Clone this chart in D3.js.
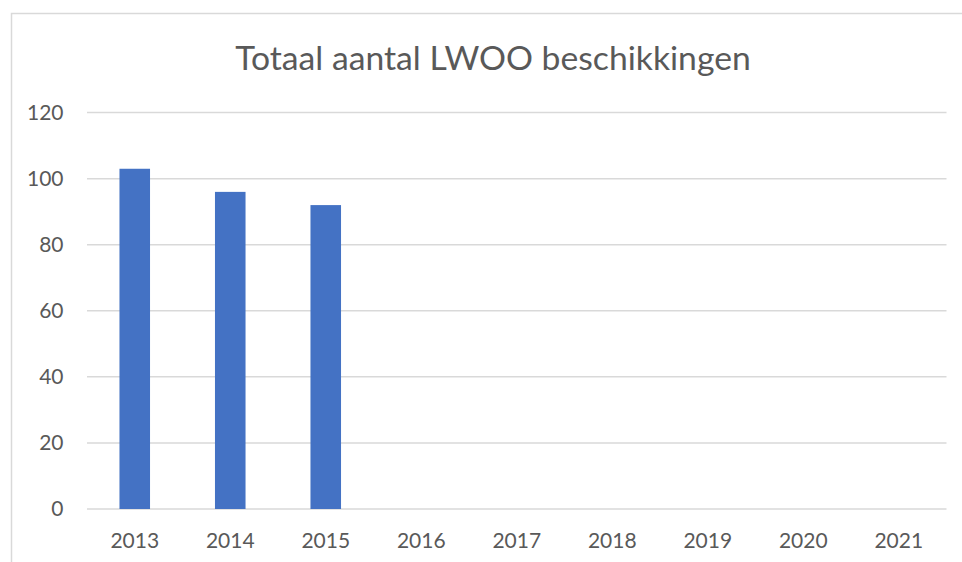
<!DOCTYPE html>
<html><head><meta charset="utf-8">
<script src="https://cdn.jsdelivr.net/npm/d3@7"></script>
<style>html,body{margin:0;padding:0;background:#fff;}svg{display:block;}</style>
</head><body>
<svg id="chart" width="962" height="562"></svg>
<script>
const title = "Totaal aantal LWOO beschikkingen";
const categories = ["2013","2014","2015","2016","2017","2018","2019","2020","2021"];
const values = [103, 96, 92, null, null, null, null, null, null];
const yTicks = [0, 20, 40, 60, 80, 100, 120];

const svg = d3.select("#chart");
const font = "Lato, 'Open Sans', sans-serif";
const textColor = "#595959";

// chart frame
svg.append("rect").attr("x", 11.5).attr("y", 13.5).attr("width", 970).attr("height", 570)
  .attr("fill", "#fff").attr("stroke", "#d9d9d9").attr("stroke-width", 1.5);

const x = d3.scaleBand().domain(categories).range([87, 946.5]).paddingInner(0.68).paddingOuter(0.34);
const y = d3.scaleLinear().domain([0, 120]).range([509, 112.6]);

// gridlines
svg.append("g").selectAll("line").data(yTicks).join("line")
  .attr("x1", 87).attr("x2", 946.5)
  .attr("y1", d => y(d)).attr("y2", d => y(d))
  .attr("stroke", "#d9d9d9").attr("stroke-width", 1.5);

// y labels
svg.append("g").selectAll("text").data(yTicks).join("text")
  .attr("x", 63.5).attr("y", d => y(d)).attr("dy", "0.35em")
  .attr("text-anchor", "end").attr("font-family", font).attr("font-size", 21)
  .attr("fill", textColor).text(d => d);

// bars
svg.append("g").selectAll("rect").data(categories.map((c, i) => ({c, v: values[i]})).filter(d => d.v != null)).join("rect")
  .attr("x", d => x(d.c)).attr("width", x.bandwidth())
  .attr("y", d => y(d.v)).attr("height", d => y(0) - y(d.v))
  .attr("fill", "#4472c4");

// x labels
svg.append("g").selectAll("text").data(categories).join("text")
  .attr("x", d => x(d) + x.bandwidth() / 2).attr("y", 547.5)
  .attr("text-anchor", "middle").attr("font-family", font).attr("font-size", 21)
  .attr("fill", textColor).text(d => d);

// title
svg.append("text").attr("x", 493).attr("y", 70).attr("text-anchor", "middle")
  .attr("font-family", font).attr("font-size", 33.7).attr("fill", textColor).text(title);
</script>
</body></html>
